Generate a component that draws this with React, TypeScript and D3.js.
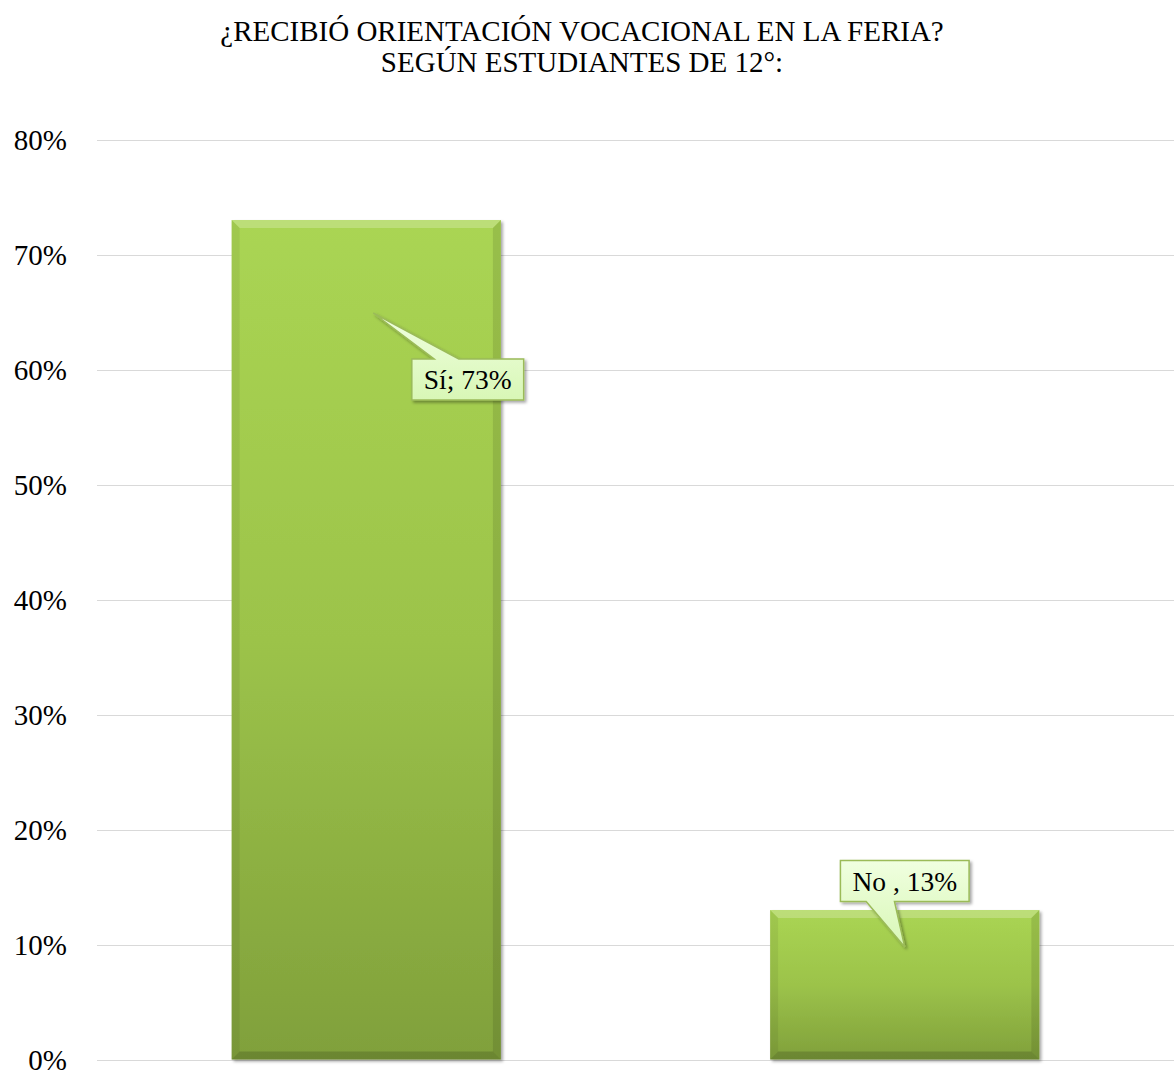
import React, { useEffect, useRef } from "react";
import * as d3 from "d3";

// chart data
const categories = ["Sí", "No "];
const values = [0.73, 0.13];
const labelTexts = ["Sí; 73%", "No , 13%"];
const yTicks = [0, 0.1, 0.2, 0.3, 0.4, 0.5, 0.6, 0.7, 0.8];
const titleLines = [
  "¿RECIBIÓ ORIENTACIÓN VOCACIONAL EN LA FERIA?",
  "SEGÚN ESTUDIANTES DE 12°:",
];

const W = 1174;
const H = 1076;

export default function App() {
  const ref = useRef<SVGSVGElement>(null);

  useEffect(() => {
    const svg = d3.select(ref.current);
    svg.selectAll("*").remove();

    const margin = { top: 139.5, right: 0, bottom: 16.5, left: 97 };
    const x = d3
      .scaleBand<string>()
      .domain(categories)
      .range([margin.left, W - margin.right])
      .paddingInner(0.5)
      .paddingOuter(0.25);
    const y = d3
      .scaleLinear()
      .domain([0, 0.8])
      .range([H - margin.bottom, margin.top]);

    const font = "Liberation Serif, serif";

    // defs: gradients + shadows
    const defs = svg.append("defs");
    const barGrad = defs
      .append("linearGradient")
      .attr("id", "barGrad")
      .attr("x1", 0)
      .attr("y1", 0)
      .attr("x2", 0)
      .attr("y2", 1);
    barGrad.append("stop").attr("offset", "0%").attr("stop-color", "#aad553");
    barGrad.append("stop").attr("offset", "50%").attr("stop-color", "#9cc34a");
    barGrad.append("stop").attr("offset", "100%").attr("stop-color", "#80a03b");

    const boxGrad = defs
      .append("linearGradient")
      .attr("id", "boxGrad")
      .attr("x1", 0)
      .attr("y1", 0)
      .attr("x2", 0)
      .attr("y2", 1);
    boxGrad.append("stop").attr("offset", "0%").attr("stop-color", "#f0ffe0");
    boxGrad.append("stop").attr("offset", "100%").attr("stop-color", "#d8f7b6");

    const shadow = defs
      .append("filter")
      .attr("id", "shadow")
      .attr("x", "-10%")
      .attr("y", "-10%")
      .attr("width", "130%")
      .attr("height", "130%");
    shadow
      .append("feDropShadow")
      .attr("dx", 2)
      .attr("dy", 2)
      .attr("stdDeviation", 1.5)
      .attr("flood-color", "#000")
      .attr("flood-opacity", 0.35);

    // title
    svg
      .append("g")
      .selectAll("text")
      .data(titleLines)
      .join("text")
      .attr("x", W / 2 - 5)
      .attr("y", (d, i) => 41 + i * 31)
      .attr("text-anchor", "middle")
      .attr("font-family", font)
      .attr("font-size", 29)
      .attr("fill", "#000")
      .text((d) => d);

    // grid + y labels
    const grid = svg.append("g");
    grid
      .selectAll("line")
      .data(yTicks)
      .join("line")
      .attr("x1", margin.left)
      .attr("x2", W)
      .attr("y1", (d) => Math.round(y(d)) + 0.5)
      .attr("y2", (d) => Math.round(y(d)) + 0.5)
      .attr("stroke", "#d9d9d9")
      .attr("stroke-width", 1);
    grid
      .selectAll("text")
      .data(yTicks)
      .join("text")
      .attr("x", 67)
      .attr("y", (d) => y(d))
      .attr("dy", "0.35em")
      .attr("text-anchor", "end")
      .attr("font-family", font)
      .attr("font-size", 29)
      .attr("fill", "#000")
      .text((d) => d3.format(".0%")(d));

    // bars with bevel
    const bv = 8;
    const bars = svg
      .append("g")
      .selectAll("g")
      .data(values)
      .join("g");
    bars.each(function (d, i) {
      const g = d3.select(this);
      const x0 = x(categories[i]) as number;
      const x1 = x0 + x.bandwidth();
      const y0 = y(d);
      const y1 = y(0);
      g.append("rect")
        .attr("x", x0)
        .attr("y", y0)
        .attr("width", x1 - x0)
        .attr("height", y1 - y0)
        .attr("fill", "url(#barGrad)")
        .attr("filter", "url(#shadow)");
      // top highlight
      g.append("path")
        .attr("d", `M${x0},${y0}L${x1},${y0}L${x1 - bv},${y0 + bv}L${x0 + bv},${y0 + bv}Z`)
        .attr("fill", "#fff")
        .attr("fill-opacity", 0.22);
      // left edge
      g.append("path")
        .attr("d", `M${x0},${y0}L${x0 + bv},${y0 + bv}L${x0 + bv},${y1 - bv}L${x0},${y1}Z`)
        .attr("fill", "#000")
        .attr("fill-opacity", 0.06);
      // right edge
      g.append("path")
        .attr("d", `M${x1},${y0}L${x1 - bv},${y0 + bv}L${x1 - bv},${y1 - bv}L${x1},${y1}Z`)
        .attr("fill", "#000")
        .attr("fill-opacity", 0.1);
      // bottom edge
      g.append("path")
        .attr("d", `M${x0},${y1}L${x0 + bv},${y1 - bv}L${x1 - bv},${y1 - bv}L${x1},${y1}Z`)
        .attr("fill", "#000")
        .attr("fill-opacity", 0.16);
    });

    // callouts (offsets from the bar's top centre)
    const callouts = [
      { dx: 101.5, dy: 159.5, tipDx: 7, tipDy: 93, above: false },
      { dx: 0, dy: -29, tipDx: 0, tipDy: 37, above: true },
    ];
    const lab = svg.append("g");
    labelTexts.forEach((t, i) => {
      const c = callouts[i];
      const bx = (x(categories[i]) as number) + x.bandwidth() / 2;
      const by = y(values[i]);
      const cx = bx + c.dx;
      const cy = by + c.dy;
      const g = lab.append("g");
      const txt = g
        .append("text")
        .attr("x", cx)
        .attr("y", cy)
        .attr("dy", "0.35em")
        .attr("text-anchor", "middle")
        .attr("font-family", font)
        .attr("font-size", 27.5)
        .attr("fill", "#000")
        .text(t);
      const tw = (txt.node() as SVGTextElement).getComputedTextLength();
      const bw = tw + 24;
      const bh = 41;
      const l = cx - bw / 2;
      const r = cx + bw / 2;
      const top = cy - bh / 2;
      const bot = cy + bh / 2;
      const wa = cx - 0.3 * bw;
      const wb = cx - 0.08 * bw;
      const tx = bx + c.tipDx;
      const ty = by + c.tipDy;
      const p = d3.path();
      if (c.above) {
        p.moveTo(l, top);
        p.lineTo(r, top);
        p.lineTo(r, bot);
        p.lineTo(wb, bot);
        p.lineTo(tx, ty);
        p.lineTo(wa, bot);
        p.lineTo(l, bot);
      } else {
        p.moveTo(l, top);
        p.lineTo(wa, top);
        p.lineTo(tx, ty);
        p.lineTo(wb, top);
        p.lineTo(r, top);
        p.lineTo(r, bot);
        p.lineTo(l, bot);
      }
      p.closePath();
      g.insert("path", "text")
        .attr("d", p.toString())
        .attr("fill", "url(#boxGrad)")
        .attr("stroke", "#9bbb59")
        .attr("stroke-width", 1.5)
        .attr("filter", "url(#shadow)");
    });
  }, []);

  return (
    <svg
      ref={ref}
      width={W}
      height={H}
      fontFamily="Liberation Serif, serif"
      style={{ position: "absolute", left: 0, top: 0, background: "#fff" }}
    />
  );
}
